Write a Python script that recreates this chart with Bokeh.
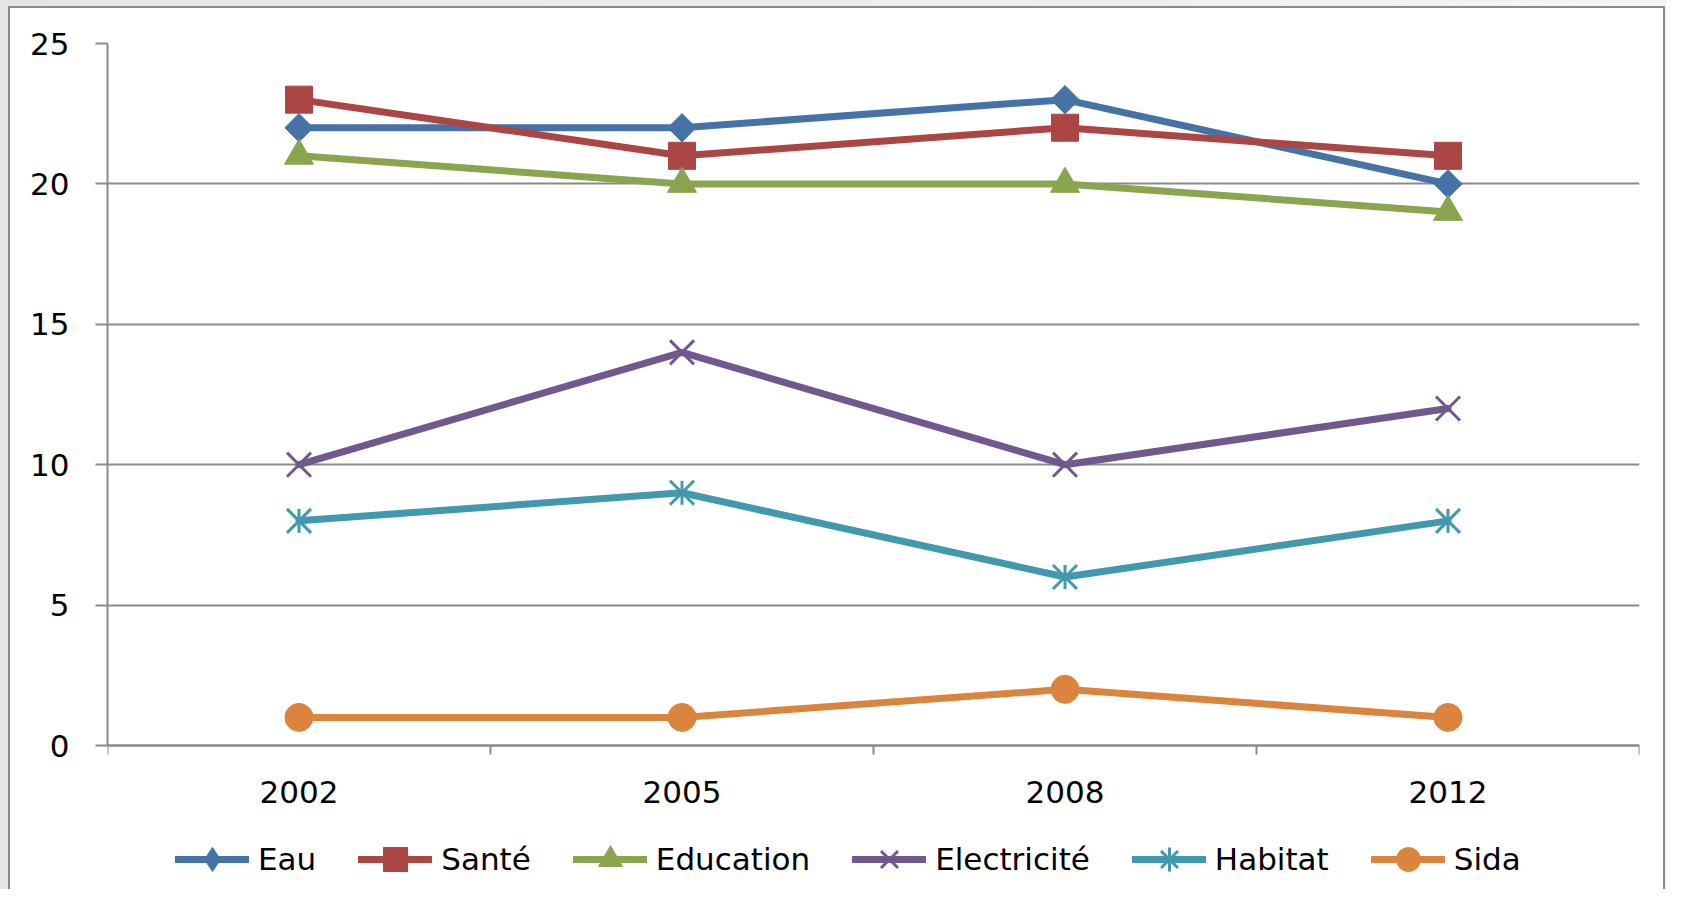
import math
from bokeh.plotting import figure
from bokeh.models import Range1d, FixedTicker, Legend, LegendItem, ColumnDataSource
from bokeh.embed import file_html
from bokeh.resources import INLINE

# ---- data ----
years = ["2002", "2005", "2008", "2012"]
eau = [22, 22, 23, 20]
sante = [23, 21, 22, 21]
education = [21, 20, 20, 19]
electricite = [10, 14, 10, 12]
habitat = [8, 9, 6, 8]
sida = [1, 1, 2, 1]
y_ticks = [0, 5, 10, 15, 20, 25]

names = ["Eau", "Santé", "Education", "Electricité", "Habitat", "Sida"]
series = [eau, sante, education, electricite, habitat, sida]
colors = ["#4572A7", "#AA4643", "#89A54E", "#71588F", "#4198AF", "#DB843D"]

FONT = "DejaVu Sans"
GREY = "#8a8a8a"
FS = "31px"

# ---- layout (pixels) ----
W, H = 1667, 889
TOP, LEFT, RIGHT = 43, 107, 28
AXIS_Y = 745            # pixel row of the value 0
# the frame runs to the bottom of the canvas so the legend can sit inside it;
# extend the value range below 0 accordingly
px_per_unit = (AXIS_Y - TOP) / (y_ticks[-1] - y_ticks[0])
y_low = y_ticks[0] - (H - AXIS_Y) / px_per_unit

# category centres on a 0..N axis (band boundaries at integers)
xs = [i + 0.5 for i in range(len(years))]

p = figure(width=W, height=H, output_backend="svg", toolbar_location=None,
           x_range=Range1d(0, len(years)), y_range=Range1d(y_low, y_ticks[-1]),
           min_border_left=LEFT, min_border_right=RIGHT, min_border_top=TOP,
           min_border_bottom=0)
# chart-area frame drawn behind the (transparent) canvas border
p.styles = {
    "background": (
        "linear-gradient(#ffffff,#ffffff) 10px 8px / calc(100% - 14px) 100% no-repeat, "
        f"linear-gradient({GREY},{GREY}) 8px 6px / calc(100% - 10px) 100% no-repeat, "
        "linear-gradient(90deg, #e6e6e6, #f4f4f4)"
    )
}
p.outline_line_color = None
p.background_fill_color = "white"
p.border_fill_alpha = 0

# grid
p.xgrid.visible = False
p.ygrid.ticker = FixedTicker(ticks=y_ticks)
p.ygrid.grid_line_color = GREY
p.ygrid.grid_line_width = 2

# y axis
p.yaxis.ticker = FixedTicker(ticks=y_ticks)
p.yaxis.bounds = (y_ticks[0], y_ticks[-1])
p.yaxis.axis_line_color = GREY
p.yaxis.axis_line_width = 2
p.yaxis.major_tick_line_color = GREY
p.yaxis.major_tick_line_width = 2
p.yaxis.major_tick_out = 12
p.yaxis.major_tick_in = 0
p.yaxis.minor_tick_line_color = None
p.yaxis.major_label_standoff = 26
p.yaxis.major_label_text_font = FONT
p.yaxis.major_label_text_font_size = FS
p.yaxis.major_label_text_color = "black"

# x axis at value 0: labels at band centres, tick marks at band boundaries
p.xaxis.fixed_location = y_ticks[0]
p.xaxis.ticker = FixedTicker(ticks=xs, minor_ticks=list(range(len(years) + 1)))
p.xaxis.major_label_overrides = {x: y for x, y in zip(xs, years)}
p.xaxis.axis_line_color = GREY
p.xaxis.axis_line_width = 2
p.xaxis.major_tick_line_color = None
p.xaxis.major_tick_out = 0
p.xaxis.major_tick_in = 0
p.xaxis.minor_tick_line_color = GREY
p.xaxis.minor_tick_line_width = 2
p.xaxis.minor_tick_out = 9
p.xaxis.minor_tick_in = 0
p.xaxis.major_label_standoff = 26
p.xaxis.major_label_text_font = FONT
p.xaxis.major_label_text_font_size = FS
p.xaxis.major_label_text_color = "black"

# per series: plot markers, and legend-only marker (legend glyphs ignore angle)
marker_specs = [
    [dict(marker="square", size=20, angle=math.pi / 4)],
    [dict(marker="square", size=27)],
    [dict(marker="triangle", size=29)],
    [dict(marker="x", size=34, line_width=3)],
    [dict(marker="x", size=34, line_width=3),
     dict(marker="dash", size=24, angle=math.pi / 2, line_width=3)],
    [dict(marker="circle", size=28)],
]
legend_only = {"Eau": dict(marker="diamond", size=28),
               "Habitat": dict(marker="cross", size=28, line_width=3)}

items = []
for name, vals, col, specs in zip(names, series, colors, marker_specs):
    src = ColumnDataSource(dict(x=xs, y=vals))
    ln = p.line("x", "y", source=src, line_color=col, line_width=7,
                line_join="round", line_cap="round")
    marks = [p.scatter("x", "y", source=src, fill_color=col, line_color=col, **s)
             for s in specs]
    rends = [ln]
    if name == "Eau":
        rends.append(p.scatter(x=[float("nan")], y=[float("nan")], fill_color=col,
                               line_color=col, **legend_only[name]))
    elif name == "Habitat":
        rends.append(marks[0])
        rends.append(p.scatter(x=[float("nan")], y=[float("nan")], fill_color=col,
                               line_color=col, **legend_only[name]))
    else:
        rends.append(marks[0])
    items.append(LegendItem(label=name, renderers=rends))

legend = Legend(items=items, orientation="horizontal", location=(68, 0),
                glyph_width=74, glyph_height=60, label_standoff=9, spacing=42,
                padding=0, margin=0, border_line_color=None,
                background_fill_alpha=0,
                label_text_font=FONT, label_text_font_size=FS,
                label_text_color="black")
p.add_layout(legend)

open("out.html", "w").write(file_html(p, INLINE))
